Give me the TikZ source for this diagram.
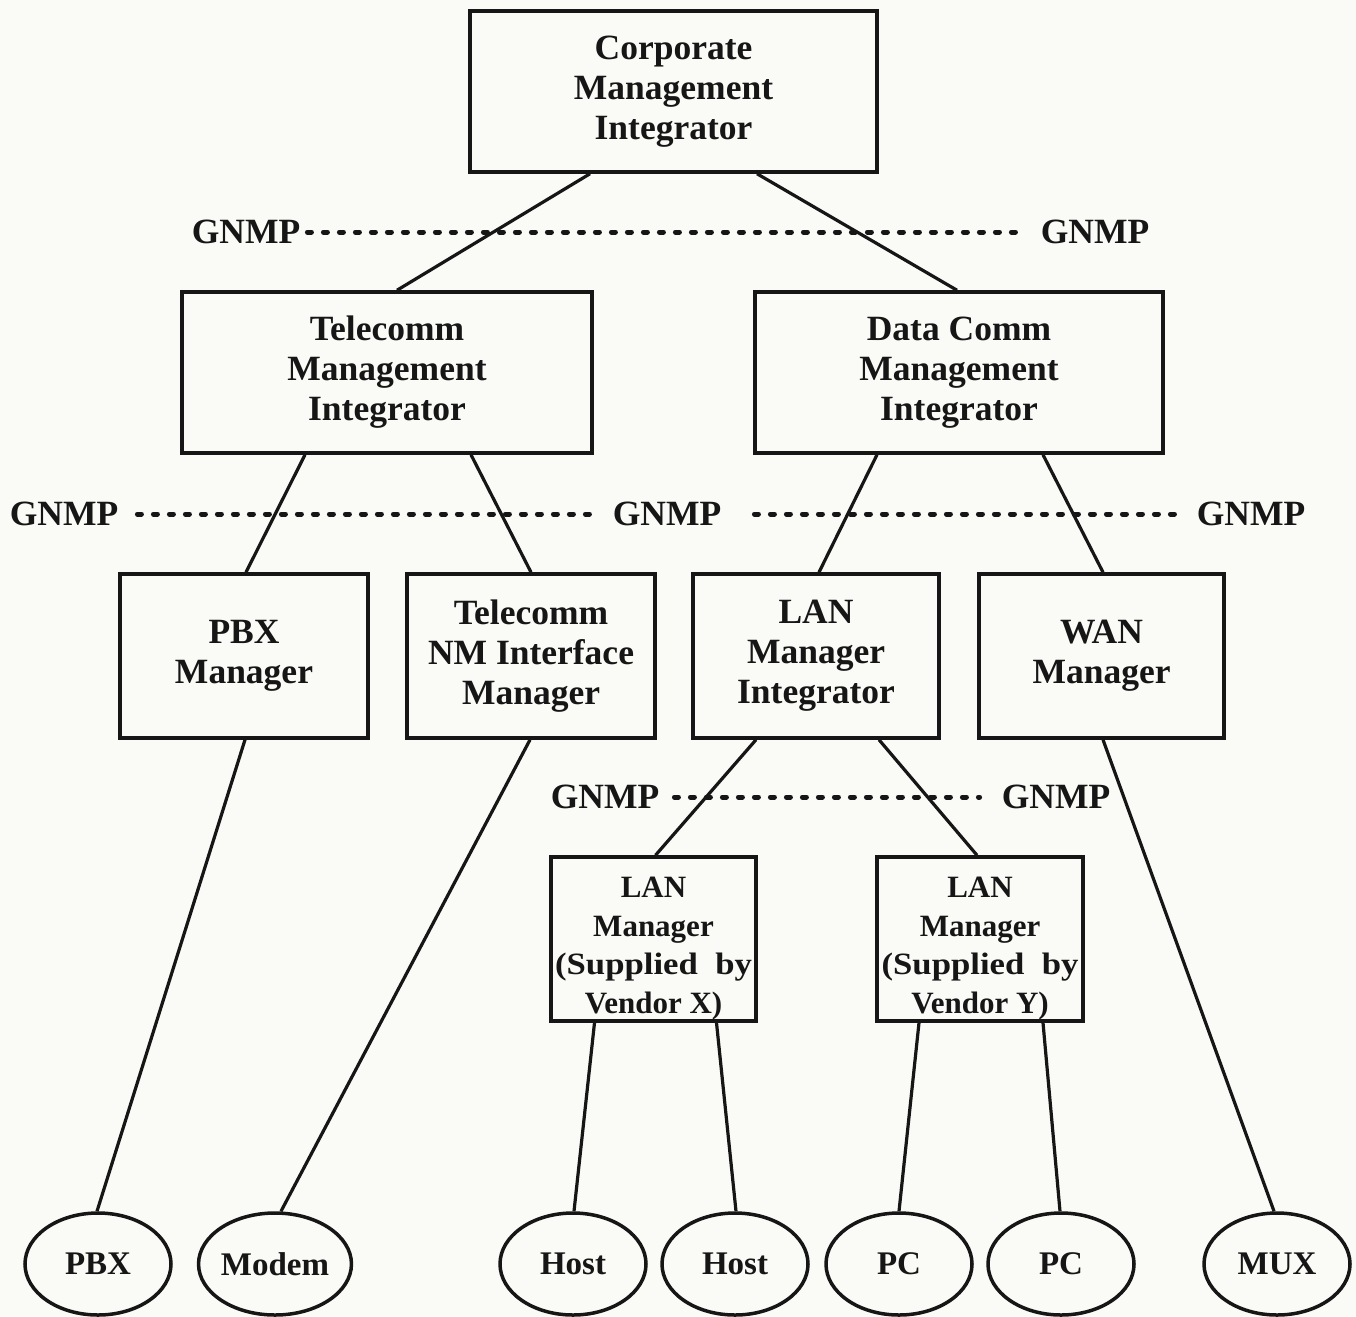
\documentclass[tikz,border=0pt]{standalone}
\usepackage{fontspec}
\setmainfont{Liberation Serif}
\usetikzlibrary{shapes.geometric}
\definecolor{ink}{HTML}{161616}
\definecolor{paper}{HTML}{FAFAF6}
\begin{document}
\begin{tikzpicture}[x=1pt,y=-1pt,
  box/.style={draw=ink, line width=3.5pt, rectangle, inner sep=0pt, align=center,
    text=ink, font=\bfseries\fontsize{35.5}{40}\selectfont},
  smallbox/.style={box, font=\bfseries\fontsize{31}{38.5}\selectfont},
  device/.style={draw=ink, line width=3.5pt, ellipse, inner sep=0pt,
    minimum width=146pt, minimum height=102pt, text=ink,
    font=\bfseries\fontsize{33}{36}\selectfont},
  proto/.style={inner sep=0pt, text=ink, font=\bfseries\fontsize{35.5}{40}\selectfont},
  link/.style={draw=ink, line width=3.2pt},
  gnmpline/.style={draw=ink, line width=5pt, line cap=round, dash pattern=on 4pt off 12pt}
]
% page
\fill[paper] (0,0) rectangle (1356,1316);
\useasboundingbox (0,0) rectangle (1356,1316);

% management boxes
\node[box, minimum width=407pt, minimum height=161pt] (corp) at (673.5,91.5)
  {Corporate\\Management\\Integrator};
\node[box, minimum width=410pt, minimum height=161pt] (tel) at (387,372.5)
  {Telecomm\\Management\\Integrator};
\node[box, minimum width=408pt, minimum height=161pt] (dc) at (959,372.5)
  {Data Comm\\Management\\Integrator};
\node[box, minimum width=248pt, minimum height=164pt] (pbxm) at (244,656)
  {PBX\\Manager};
\node[box, minimum width=248pt, minimum height=164pt] (nm) at (531,656)
  {Telecomm\\NM Interface\\Manager};
\node[box, minimum width=246pt, minimum height=164pt] (lanint) at (816,656)
  {LAN\\Manager\\Integrator};
\node[box, minimum width=245pt, minimum height=164pt] (wan) at (1101.5,656)
  {WAN\\Manager};
% vendor boxes: a tall strut on the first line lowers the text block a little
\node[smallbox, minimum width=205pt, minimum height=164pt] (vx) at (653.5,939)
  {\rule{0pt}{40pt}LAN\\Manager\\\scalebox{1.12}[1]{(Supplied\ \ by}\\Vendor X)};
\node[smallbox, minimum width=206pt, minimum height=164pt] (vy) at (980,939)
  {\rule{0pt}{40pt}LAN\\Manager\\\scalebox{1.12}[1]{(Supplied\ \ by}\\Vendor Y)};

% managed devices
\node[device] (pbx) at (98,1264) {PBX};
\node[device] (modem) at (275,1264) {Modem};
\node[device] (hosta) at (573,1264) {Host};
\node[device] (hostb) at (735,1264) {Host};
\node[device] (pca) at (899,1264) {PC};
\node[device] (pcb) at (1061,1264) {PC};
\node[device] (mux) at (1277,1264) {MUX};

% protocol labels
\node[proto] (g1) at (246,232) {GNMP};
\node[proto] (g2) at (1095,232) {GNMP};
\node[proto] (g3) at (64,514) {GNMP};
\node[proto] (g4) at (667,514) {GNMP};
\node[proto] (g5) at (1251,514) {GNMP};
\node[proto] (g6) at (605,797) {GNMP};
\node[proto] (g7) at (1056,797) {GNMP};

% protocol boundaries
\draw[gnmpline] ([xshift=7pt]g1.east) -- ([xshift=-20pt]g2.west);
\draw[gnmpline] ([xshift=19pt]g3.east) -- ([xshift=-21pt]g4.west);
\draw[gnmpline] ([xshift=33pt]g4.east) -- ([xshift=-12pt]g5.west);
\draw[gnmpline] ([xshift=15pt]g6.east) -- ([xshift=-22pt]g7.west);

% hierarchy links
\draw[link] ([xshift=-83.5pt]corp.south) -- ([xshift=10pt]tel.north);
\draw[link] ([xshift=83.5pt]corp.south) -- ([xshift=-2pt]dc.north);
\draw[link] ([xshift=-82pt]tel.south) -- ([xshift=2pt]pbxm.north);
\draw[link] ([xshift=84pt]tel.south) -- (nm.north);
\draw[link] ([xshift=-82pt]dc.south) -- ([xshift=3pt]lanint.north);
\draw[link] ([xshift=84pt]dc.south) -- ([xshift=1.5pt]wan.north);
\draw[link] ([xshift=-60pt]lanint.south) -- ([xshift=2pt]vx.north);
\draw[link] ([xshift=63pt]lanint.south) -- ([xshift=-3pt]vy.north);

% device links
\draw[link] ([xshift=1pt]pbxm.south) -- ([xshift=-1pt]pbx.north);
\draw[link] ([xshift=-1pt]nm.south) -- ([xshift=6pt]modem.north);
\draw[link] ([xshift=-59pt]vx.south) -- ([xshift=1pt]hosta.north);
\draw[link] ([xshift=63pt]vx.south) -- ([xshift=1pt]hostb.north);
\draw[link] ([xshift=-61pt]vy.south) -- (pca.north);
\draw[link] ([xshift=63pt]vy.south) -- ([xshift=-1pt]pcb.north);
\draw[link] ([xshift=1.5pt]wan.south) -- ([xshift=-3pt]mux.north);
\end{tikzpicture}
\end{document}
